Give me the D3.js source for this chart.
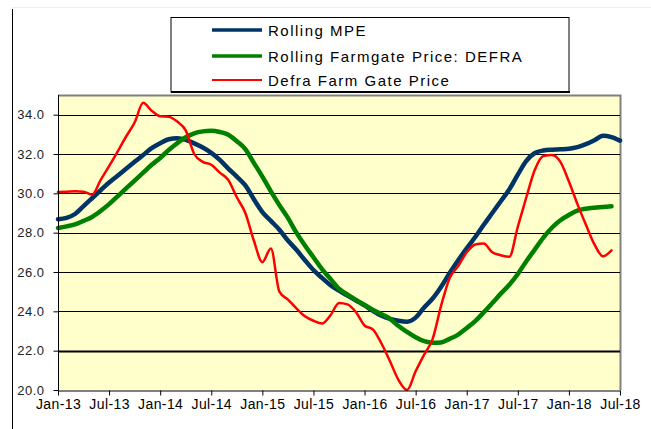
<!DOCTYPE html>
<html>
<head>
    <title>rolling milk price chart</title>
    <script type="text/javascript" src="https://cdn.jsdelivr.net/npm/d3@7"></script>
    <style type="text/css">
        body {
            margin: 0;
            background-color: #fff;
        }
        text {
            font-family: "Liberation Sans", Arial, sans-serif;
            fill: #000;
        }
        .grid line {
            stroke: #000;
            stroke-width: 1px;
        }
        .axis path, .axis line {
            stroke: #000;
            stroke-width: 1px;
        }
    </style>
</head>
<body>
    <svg id="chart" width="651" height="429"></svg>
</body>

<script type="text/javascript">
    // month index 0 = Jan-13, ticks every 6 months
    const tick_labels = ["Jan-13", "Jul-13", "Jan-14", "Jul-14", "Jan-15", "Jul-15",
                         "Jan-16", "Jul-16", "Jan-17", "Jul-17", "Jan-18", "Jul-18"];
    const y_ticks = [20, 22, 24, 26, 28, 30, 32, 34];

    const series_names = ["Rolling MPE", "Rolling Farmgate Price: DEFRA", "Defra Farm Gate Price"];

    // Rolling MPE, Jan-13 .. Jul-18
    const rolling_mpe = [
        28.68, 28.75, 28.95, 29.35, 29.75, 30.15, 30.55, 30.9, 31.25, 31.6, 31.95, 32.3,
        32.55, 32.75, 32.8, 32.72, 32.54, 32.33, 32.06, 31.7, 31.26, 30.85, 30.4, 29.7,
        29.05, 28.6, 28.15, 27.6, 27.13, 26.6, 26.1, 25.7, 25.33, 25.05, 24.8, 24.55,
        24.3, 24.02, 23.78, 23.62, 23.52, 23.47, 23.68, 24.2, 24.65, 25.25, 25.95, 26.6,
        27.2, 27.78, 28.4, 29.0, 29.6, 30.2, 30.95, 31.65, 32.05, 32.18, 32.22, 32.24,
        32.27, 32.35, 32.5, 32.7, 32.93, 32.86, 32.68
    ];

    // Rolling farmgate price (DEFRA), Jan-13 .. Jun-18
    const rolling_defra = [
        28.24, 28.32, 28.42, 28.6, 28.8, 29.1, 29.45, 29.85, 30.25, 30.65, 31.05, 31.45,
        31.8, 32.2, 32.55, 32.85, 33.05, 33.15, 33.18, 33.12, 32.98, 32.65, 32.25, 31.55,
        30.85, 30.1, 29.4, 28.75, 28.0, 27.35, 26.75, 26.15, 25.65, 25.15, 24.85, 24.58,
        24.33, 24.07, 23.85, 23.62, 23.25, 22.95, 22.68, 22.48, 22.4, 22.42, 22.6, 22.82,
        23.15, 23.5, 23.95, 24.42, 24.9, 25.35, 25.9, 26.55, 27.15, 27.75, 28.25, 28.63,
        28.9, 29.12, 29.22, 29.27, 29.3, 29.34
    ];

    // Defra farm gate price, Jan-13 .. Jun-18
    const defra_price = [
        30.07, 30.08, 30.1, 30.08, 29.93, 30.67, 31.38, 32.12, 32.89, 33.6, 34.6, 34.2,
        33.92, 33.9, 33.65, 33.2, 32.0, 31.6, 31.45, 31.05, 30.68, 29.8, 29.0, 27.6,
        26.5, 27.2, 25.0, 24.6, 24.15, 23.75, 23.52, 23.38, 23.8, 24.43, 24.35, 23.95,
        23.28, 23.07, 22.35, 21.45, 20.5, 20.0, 20.95, 21.8, 22.6, 24.3, 25.7, 26.3,
        27.0, 27.4, 27.45, 27.0, 26.85, 26.77, 28.3, 29.8, 31.2, 31.9, 31.95, 31.6,
        30.6, 29.45, 28.4, 27.4, 26.8, 27.1
    ];

    const colors = ["#003366", "#008000", "#ff0000"];
    const widths = [4.5, 4.5, 2.5];

    const plot_left = 58, plot_right = 620, plot_top = 95, plot_bottom = 390;

    let svg = d3.select("#chart");

    // outer frame bits
    svg.append("line").attr("x1", 12).attr("x2", 651).attr("y1", 7.5).attr("y2", 7.5)
       .attr("stroke", "#eeeeee").attr("stroke-width", 1);
    svg.append("line").attr("x1", 12.5).attr("x2", 12.5).attr("y1", 9).attr("y2", 429)
       .attr("stroke", "#000").attr("stroke-width", 1);

    let x = d3.scaleLinear().domain([0, 66]).range([plot_left, plot_right]);
    let y = d3.scaleLinear().domain([20, 35]).range([plot_bottom, plot_top]);

    // plot area
    svg.append("rect")
       .attr("x", plot_left).attr("y", plot_top)
       .attr("width", plot_right - plot_left).attr("height", plot_bottom - plot_top)
       .attr("fill", "#ffffcc");
    svg.append("path")
       .attr("d", "M" + plot_left + "," + (plot_top + 0.5) + "H" + (plot_right + 0.5) + "V" + plot_bottom)
       .attr("fill", "none").attr("stroke", "#808080").attr("stroke-width", 2);

    // gridlines
    svg.append("g").attr("class", "grid")
       .selectAll("line")
       .data(y_ticks.filter(function(d) { return d > 20; }))
       .join("line")
       .attr("x1", plot_left).attr("x2", plot_right)
       .attr("y1", function(d) { return Math.round(y(d)) + 0.5; })
       .attr("y2", function(d) { return Math.round(y(d)) + 0.5; })
       .style("stroke-width", function(d) { return d === 22 ? "2px" : "1px"; });

    // series
    let line = d3.line()
                 .x(function(d, i) { return x(i); })
                 .y(function(d) { return y(d); })
                 .curve(d3.curveMonotoneX);

    [rolling_mpe, rolling_defra, defra_price].forEach(function(s, k) {
        svg.append("path")
           .attr("d", line(s))
           .attr("fill", "none")
           .attr("stroke", colors[k])
           .attr("stroke-width", widths[k])
           .attr("stroke-linejoin", "round")
           .attr("stroke-linecap", "round");
    });

    // axes
    let y_axis = svg.append("g").attr("class", "axis")
        .attr("transform", "translate(" + (plot_left + 0.5) + ",0)")
        .call(d3.axisLeft(y).tickValues(y_ticks).tickFormat(d3.format(".1f"))
                .tickSize(5).tickSizeOuter(0).tickPadding(9));
    y_axis.selectAll("text").attr("font-size", "13px").attr("letter-spacing", "0.5px")
          .attr("font-family", null).style("fill", "#222");
    y_axis.select(".domain").attr("d", "M0," + plot_top + "V" + plot_bottom);

    let x_axis = svg.append("g").attr("class", "axis")
        .attr("transform", "translate(0," + (plot_bottom + 0.5) + ")")
        .call(d3.axisBottom(x).tickValues(d3.range(0, 67, 6))
                .tickFormat(function(d) { return tick_labels[d / 6]; })
                .tickSize(5).tickSizeOuter(0).tickPadding(4));
    x_axis.selectAll("text").attr("font-size", "14px").attr("letter-spacing", "0.4px")
          .attr("font-family", null);

    // legend
    let legend = svg.append("g");
    legend.append("rect")
          .attr("x", 171).attr("y", 17.5).attr("width", 398).attr("height", 74.5)
          .attr("fill", "#fff").attr("stroke", "#000").attr("stroke-width", 1);
    legend.append("line").attr("x1", 171).attr("x2", 570).attr("y1", 92).attr("y2", 92)
          .attr("stroke", "#000").attr("stroke-width", 2);

    const legend_y = [30, 56, 80];
    const legend_w = [3.5, 3.5, 2];
    series_names.forEach(function(name, k) {
        legend.append("line")
              .attr("x1", 212).attr("x2", 262)
              .attr("y1", legend_y[k]).attr("y2", legend_y[k])
              .attr("stroke", colors[k]).attr("stroke-width", legend_w[k]);
        legend.append("text")
              .attr("x", 268).attr("y", legend_y[k] + 5.5)
              .attr("font-size", "15px").attr("letter-spacing", "1.5px")
              .text(name);
    });
</script>

</html>
